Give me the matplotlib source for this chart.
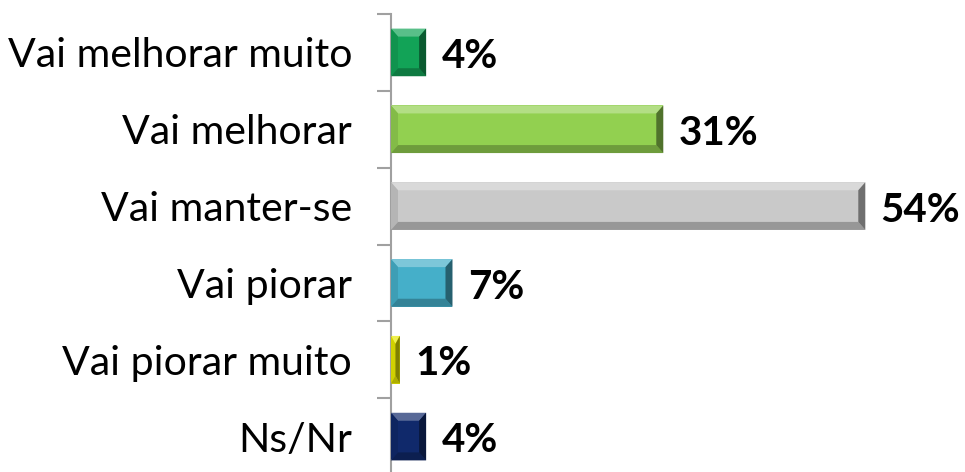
import matplotlib.pyplot as plt
from matplotlib.patches import Polygon
import matplotlib.colors as mcolors

categories = ["Vai melhorar muito", "Vai melhorar", "Vai manter-se",
              "Vai piorar", "Vai piorar muito", "Ns/Nr"]
values = [4, 31, 54, 7, 1, 4]
colors = ["#12a357", "#92d050", "#c9c9c9", "#45afc9", "#e8e800", "#10296b"]

plt.rcParams['font.family'] = ['Lato', 'DejaVu Sans']

fig = plt.figure(figsize=(9.65, 4.72), dpi=100)
ax = fig.add_axes([391 / 965, -3 / 472, 527 / 965, 461 / 472])

ypos = list(range(len(categories)))
bars = ax.barh(ypos, values, height=0.62, color=colors, edgecolor="none", zorder=2)

ax.set_xlim(0, 60)
ax.set_ylim(len(categories) - 0.5, -0.5)
ax.set_yticks(ypos)
ax.set_yticklabels(categories, fontsize=29.5)
ax.set_yticks([i + 0.5 for i in range(-1, len(categories))], minor=True)
ax.tick_params(axis="y", which="major", length=0, pad=28)
ax.tick_params(axis="y", which="minor", length=10, width=1.5, color="#a0a0a0")
ax.set_xticks([])
for s in ["top", "right", "bottom"]:
    ax.spines[s].set_visible(False)
ax.spines["left"].set_color("#a0a0a0")
ax.spines["left"].set_linewidth(1.5)
ax.spines["left"].set_zorder(3)

for b, v in zip(bars, values):
    ax.annotate(f"{v}%", (v, b.get_y() + b.get_height() / 2), xytext=(11, -3),
                textcoords="offset points", va="center", ha="left",
                fontsize=29, fontweight="bold", color="black")

# bevel look on each bar
fig.canvas.draw()
for b, c in zip(bars, colors):
    (x0, y0), (x1, y1) = b.get_window_extent().get_points()
    w, h = x1 - x0, y1 - y0
    dx = min(7, w / 2)
    dy = min(8, h / 2)
    rgb = mcolors.to_rgb(c)
    light = tuple(1 - (1 - ch) * 0.7 for ch in rgb)
    mid = tuple(ch * 0.9 for ch in rgb)
    dark = tuple(ch * 0.75 for ch in rgb)
    darker = tuple(ch * 0.55 for ch in rgb)
    faces = [
        ([(x0, y1), (x1, y1), (x1 - dx, y1 - dy), (x0 + dx, y1 - dy)], light),
        ([(x0, y0), (x0, y1), (x0 + dx, y1 - dy), (x0 + dx, y0 + dy)], mid),
        ([(x0, y0), (x1, y0), (x1 - dx, y0 + dy), (x0 + dx, y0 + dy)], dark),
        ([(x1, y0), (x1, y1), (x1 - dx, y1 - dy), (x1 - dx, y0 + dy)], darker),
    ]
    for pts, fc in faces:
        fig.patches.append(Polygon(pts, closed=True, facecolor=fc, edgecolor="none",
                                   transform=None, figure=fig, zorder=2.5))

fig.savefig("out.png", dpi=100)
